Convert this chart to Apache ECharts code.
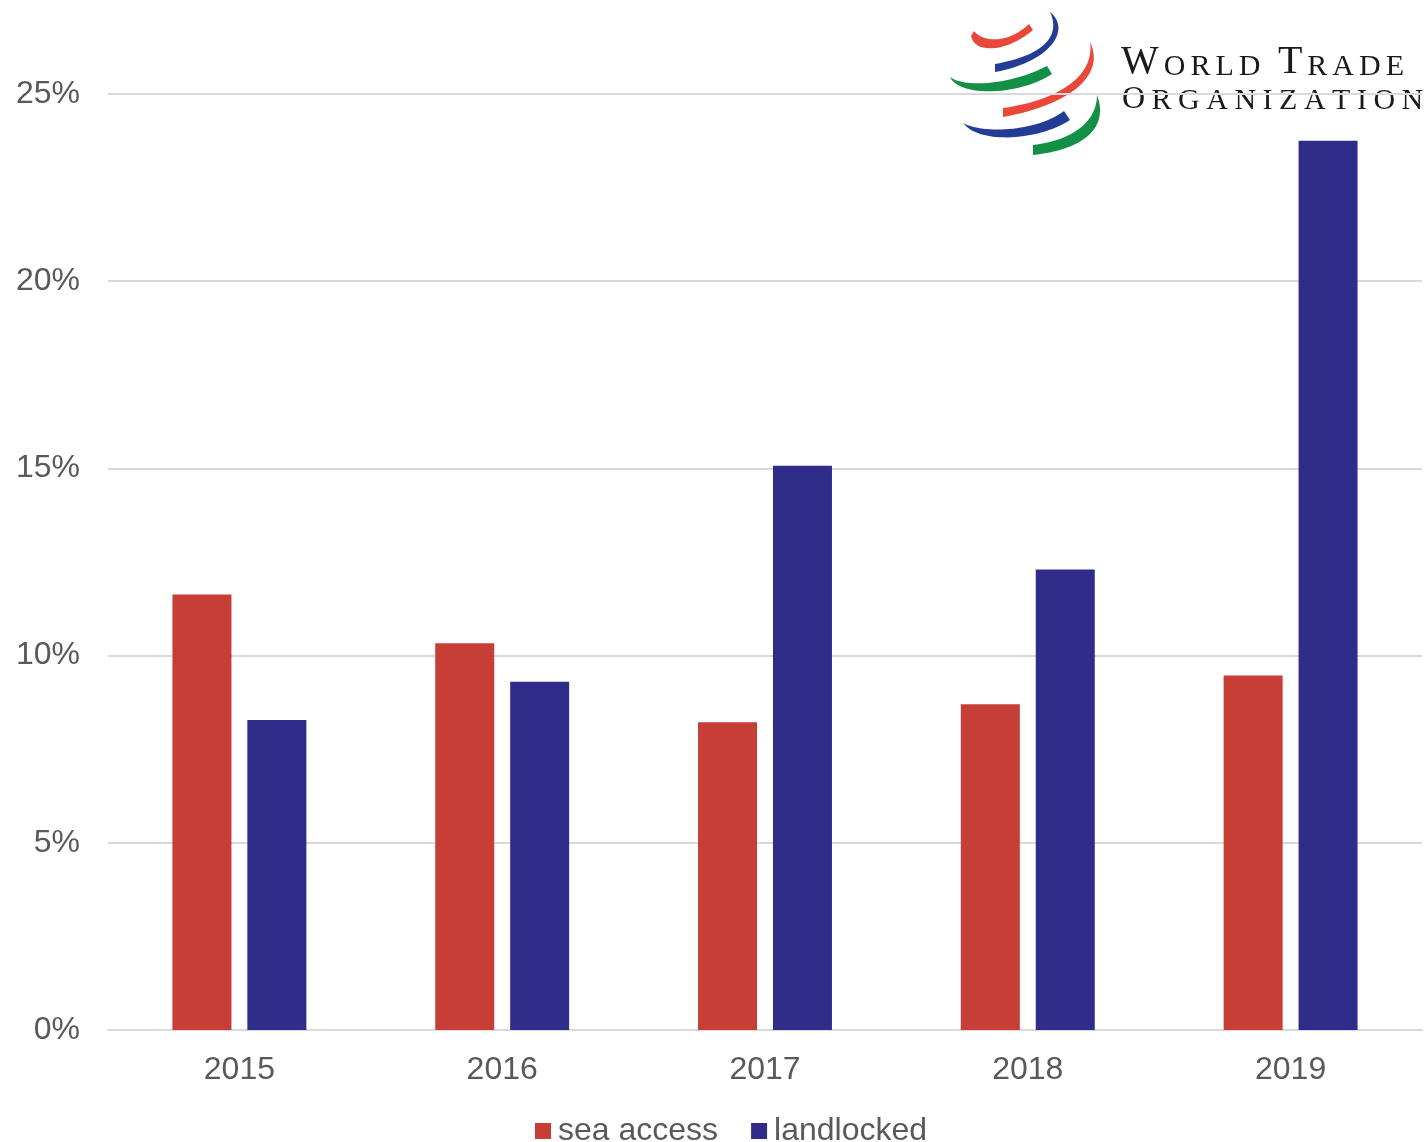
<!DOCTYPE html>
<html><head><meta charset="utf-8">
<script src="https://cdn.jsdelivr.net/npm/echarts@6/dist/echarts.min.js"></script>
<style>html,body{margin:0;padding:0;background:#fff}#c{width:1428px;height:1142px}</style>
</head><body><div id="c"></div>
<script>
const categories = ['2015', '2016', '2017', '2018', '2019'];
const seaAccess = [11.63, 10.33, 8.22, 8.70, 9.47];
const landlocked = [8.28, 9.30, 15.07, 12.30, 23.75];
const yTicks = [0, 5, 10, 15, 20, 25];

const chart = echarts.init(document.getElementById('c'));
const lbl = {color: '#595959', fontSize: 32, fontFamily: 'Liberation Sans, Arial, sans-serif'};
function bez(p0, p1, p2, p3, n){
  const pts = [];
  for (let i = 0; i <= n; i++) {
    const t = i / n, u = 1 - t;
    pts.push([
      u*u*u*p0[0] + 3*u*u*t*p1[0] + 3*u*t*t*p2[0] + t*t*t*p3[0],
      u*u*u*p0[1] + 3*u*u*t*p1[1] + 3*u*t*t*p2[1] + t*t*t*p3[1]
    ]);
  }
  return pts;
}
function swoosh(a, b, color){
  const pts = bez(a[0], a[1], a[2], a[3], 30).concat(bez(b[0], b[1], b[2], b[3], 30));
  return {type:'polygon', z:-10, silent:true, shape:{points:pts}, style:{fill:color}};
}
const serif = 'Liberation Serif, DejaVu Serif, serif';
function tracked(words, big, small, track){
  let s = '';
  words.forEach(function(w, wi){
    for (let i = 0; i < w.length; i++) {
      s += '{' + (i === 0 ? 'a' : 'b') + '|' + w[i] + '}';
    }
    if (wi < words.length - 1) s += '{b| }';
  });
  return {text: s, rich: {
    a: {fontFamily: serif, fontSize: big, fill: '#1a1a1a', padding: [0, track, 0, 0], verticalAlign: 'bottom'},
    b: {fontFamily: serif, fontSize: small, fill: '#1a1a1a', padding: [0, track, 0, 0], verticalAlign: 'bottom'}
  }};
}
chart.setOption({
  animation:false,
  backgroundColor:'#fff',
  grid:{left:108,right:6,top:94,bottom:112},
  legend:{top:1110,left:530,itemWidth:16,itemHeight:16,itemGap:33,icon:'rect',
    textStyle:Object.assign({},lbl,{padding:[0,0,0,2]}),data:['sea access','landlocked']},
  xAxis:{type:'category',data:categories,
    axisLine:{lineStyle:{color:'#d9d9d9',width:2}},axisTick:{show:false},
    axisLabel:Object.assign({margin:24},lbl)},
  yAxis:{type:'value',min:yTicks[0],max:yTicks[yTicks.length-1],interval:5,
    axisLine:{show:false},axisTick:{show:false},
    axisLabel:Object.assign({margin:28,formatter:'{value}%'},lbl),
    splitLine:{lineStyle:{color:'#d9d9d9',width:2}}},
  series:[
    {name:'sea access',type:'bar',data:seaAccess,barWidth:59,barGap:'27%',itemStyle:{color:'#C63E35'}},
    {name:'landlocked',type:'bar',data:landlocked,barWidth:59,barGap:'27%',itemStyle:{color:'#302D8A'}}
  ],
  graphic:[
    swoosh([[971,36],[976,56],[1010,50],[1033,30]], [[1029,24],[1010,42],[985,44],[974,31]], '#E8473A'),
    swoosh([[1050,12],[1072,30],[1050,62],[995,72]], [[995,64],[1040,56],[1062,38],[1050,12]], '#233C95'),
    swoosh([[950,77],[960,98],[1020,95],[1052,74]], [[1047,66],[1010,85],[965,88],[950,77]], '#119046'),
    swoosh([[1090,42],[1106,75],[1070,105],[1003,117]], [[1003,108],[1060,100],[1095,75],[1090,42]], '#E8473A'),
    swoosh([[963,123],[980,145],[1040,140],[1070,120]], [[1064,111],[1040,130],[985,135],[963,123]], '#233C95'),
    swoosh([[1097,95],[1110,130],[1080,150],[1033,155]], [[1033,145],[1075,140],[1097,120],[1097,95]], '#119046'),
    {type:'text',z:-10,silent:true,left:1121,top:42,style:tracked(['WORLD','TRADE'],40,30,5)},
    {type:'text',z:-10,silent:true,left:1122,top:84,style:tracked(['ORGANIZATION'],32,30,6.5)}
  ]
});
</script></body></html>
